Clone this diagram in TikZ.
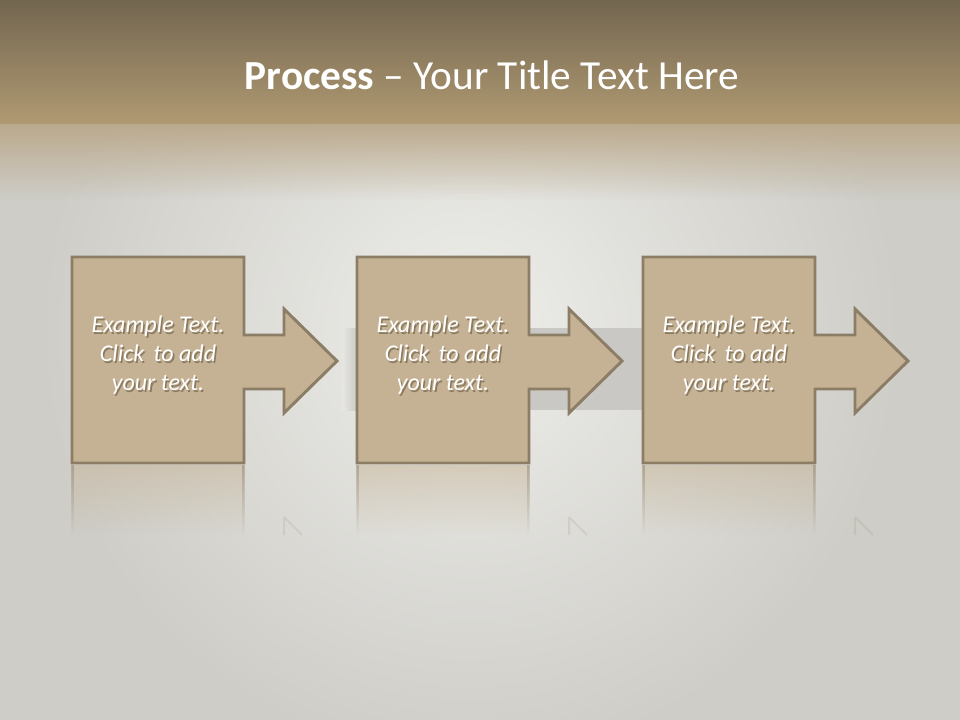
\documentclass[tikz,border=0pt]{standalone}
\usepackage{fontspec}
\setmainfont{Carlito}
\usetikzlibrary{fadings}

\definecolor{bgray}{HTML}{CECDC8}
\definecolor{bglight}{HTML}{EEEEEA}
\definecolor{headtop}{HTML}{736650}
\definecolor{headlow}{HTML}{B09A72}
\definecolor{headfade}{HTML}{BBAA8D}
\definecolor{bandgray}{HTML}{C9C8C4}
\definecolor{boxfill}{HTML}{C5B294}
\definecolor{boxline}{HTML}{8B7D66}
\definecolor{txtshadow}{HTML}{8A7A60}

% white text with a soft shadow below it
\newcommand{\shadowtext}[1]{%
  \makebox[0pt][l]{\raisebox{-1.6pt}{\hspace{1.2pt}\color{txtshadow}%
    \begin{tabular}{@{}c@{}}#1\end{tabular}}}%
  \begin{tabular}{@{}c@{}}#1\end{tabular}}

\tikzset{
  stepshape/.style={fill=boxfill, draw=boxline, line width=2.2pt, line join=miter},
  steptext/.style={inner sep=0pt, font=\fontsize{18}{21.8}\selectfont\itshape, text=white},
  titletext/.style={font=\fontsize{31}{36}\selectfont, text=white}
}

\begin{document}
\begin{tikzpicture}[x=0.75pt, y=-0.75pt]
  \useasboundingbox (0,0) rectangle (960,720);

  % background
  \fill[bgray] (0,0) rectangle (960,720);
  \shade[inner color=bglight, outer color=bgray] (470,330) circle (430);
  \shade[top color=headtop, bottom color=headlow] (0,0) rectangle (960,125);
  \fill[headfade, path fading=south] (0,124) rectangle (960,200);

  \node[titletext] (title) at (492,75) {\textbf{Process} -- Your Title Text Here};

  % band behind the steps
  \fill[bandgray] (342,328) rectangle (643,410);
  \shade[left color=bglight!80!bandgray, right color=bandgray] (342,328) rectangle (358,410);

  \foreach \i/\dx in {1/0, 2/285, 3/571} {
    \begin{scope}[shift={(\dx,0)}]
      % reflection
      \fill[boxfill, opacity=0.5, path fading=south] (72,465) rectangle (244,535);
      \fill[boxline, opacity=0.45, path fading=south] (71,465) rectangle (74,535);
      \fill[boxline, opacity=0.45, path fading=south] (242,465) rectangle (245,535);
      \draw[boxline, opacity=0.15, line width=1.5pt] (284,517) -- (284,535) (284,517) -- (302,535);
      % box with arrow
      \draw[stepshape] (72,257) -- (244,257) -- (244,335) -- (284,335) -- (284,309)
        -- (337,361) -- (284,413) -- (284,389) -- (244,389) -- (244,463) -- (72,463) -- cycle;
      \node[steptext] (text\i) at (158,357) {\shadowtext{Example Text.\\Click\, to add\\your text.}};
    \end{scope}
  }
\end{tikzpicture}
\end{document}
